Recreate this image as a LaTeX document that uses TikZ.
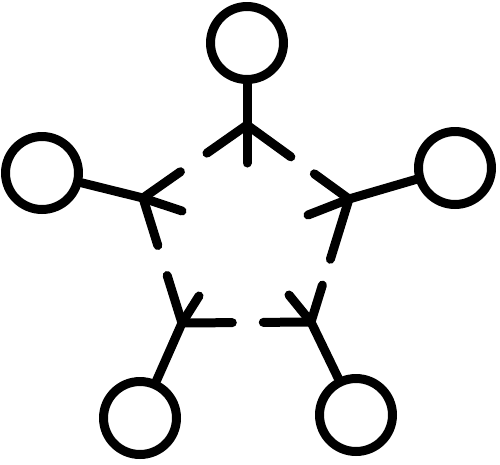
\documentclass[tikz,border=0pt]{standalone}
\usepackage{tikz}
\usetikzlibrary{calc}
\begin{document}
\begin{tikzpicture}[x=0.02cm,y=-0.02cm,
  icon/.style={line width=0.18cm,line cap=round,line join=round},
  hub/.style={circle,draw,line width=0.18cm,minimum size=1.46cm,inner sep=0pt}]
\useasboundingbox (0,0) rectangle (500,464);
\coordinate (T) at (247,125);
\coordinate (L) at (143,198);
\coordinate (R) at (349,199);
\coordinate (BL) at (182,323);
\coordinate (BR) at (311,322);
\coordinate (iT) at (247,163);
\coordinate (iL) at (182,211);
\coordinate (iR) at (308,215);
\coordinate (iBL) at (199,296);
\coordinate (iBR) at (289,295);
\node[hub] (cT) at (247,43) {};
\node[hub] (cL) at (42,173) {};
\node[hub] (cR) at (455,168) {};
\node[hub] (cBL) at (140,418) {};
\node[hub] (cBR) at (356,415) {};
\draw[icon] (cT) -- (T) -- (iT);
\draw[icon] (cL) -- (L) -- (iL);
\draw[icon] (cR) -- (R) -- (iR);
\draw[icon] (cBL) -- (BL) -- (iBL);
\draw[icon] (cBR) -- (BR) -- (iBR);
\draw[icon] (T) -- ($(T)!0.385!(L)$) (L) -- ($(L)!0.36!(T)$);
\draw[icon] (T) -- ($(T)!0.43!(R)$) (R) -- ($(R)!0.34!(T)$);
\draw[icon] (L) -- ($(L)!0.38!(BL)$) (BL) -- ($(BL)!0.38!(L)$);
\draw[icon] (BL) -- ($(BL)!0.39!(BR)$) (BR) -- ($(BR)!0.37!(BL)$);
\draw[icon] (R) -- ($(R)!0.49!(BR)$) (BR) -- ($(BR)!0.30!(R)$);
\end{tikzpicture}
\end{document}
